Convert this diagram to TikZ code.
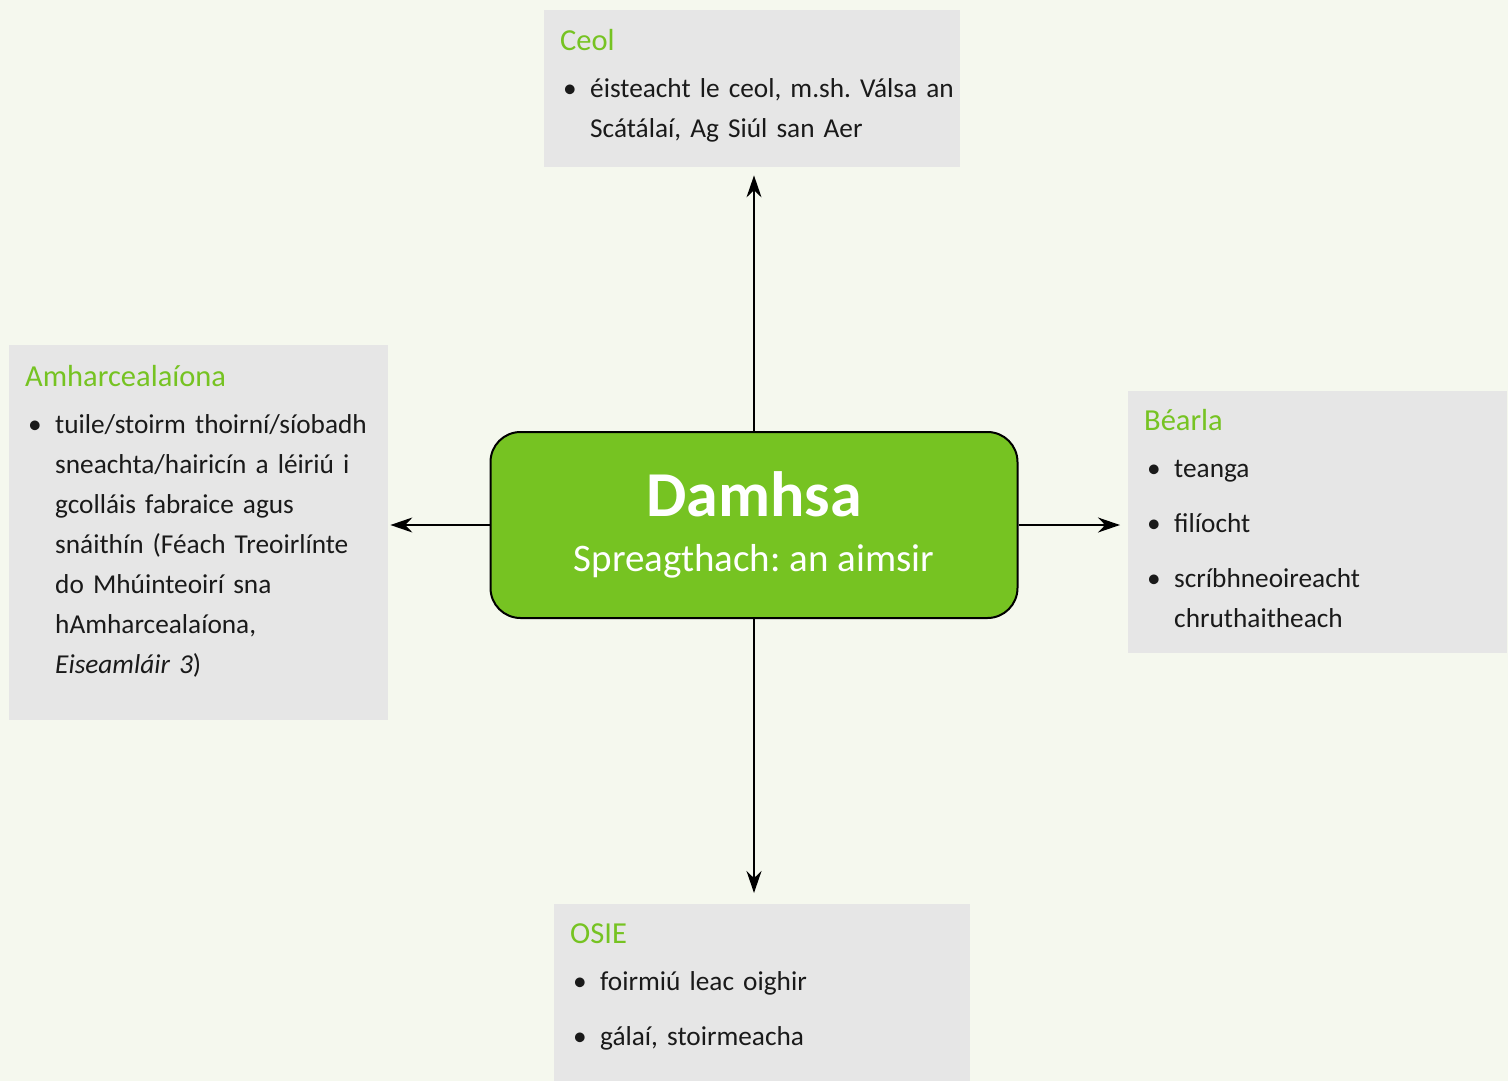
\documentclass[tikz,border=0pt]{standalone}
\usepackage{fontspec}
\setmainfont{Carlito}
\usetikzlibrary{arrows.meta}

\definecolor{bgcol}{HTML}{F5F8EE}
\definecolor{panelgray}{HTML}{E6E6E6}
\definecolor{leafgreen}{HTML}{76C322}
\definecolor{inkcol}{HTML}{1A1A1A}

% title line of a panel, then one bullet item
\newcommand{\head}[1]{\noindent\rule{0pt}{40pt}{\color{leafgreen}\fontsize{30.5}{40}\selectfont #1}\par\vspace{7pt}}
\newcommand{\itm}[1]{\hangindent=30pt\hangafter=1\noindent\makebox[30pt][l]{\hspace{3pt}\textbullet}#1\par}

\begin{document}
\frenchspacing
\begin{tikzpicture}[x=1pt,y=-1pt,
  panel/.style={fill=panelgray, inner sep=0pt, anchor=north west},
  listtext/.style={anchor=north west, inner sep=0pt, text width=420pt, align=left,
    text=inkcol, font=\fontsize{27.3}{40}\selectfont},
  hub/.style={fill=leafgreen, draw=black, line width=2pt, rounded corners=30pt,
    minimum width=527pt, minimum height=186pt, text=white, align=center,
    font=\fontsize{39}{55}\selectfont},
  conn/.style={-{Stealth[length=22pt,width=15pt]}, line width=1.4pt}]

\fill[bgcol] (0,0) rectangle (1508,1081);
\useasboundingbox (0,0) rectangle (1508,1081);

\node[hub] (hub) at (754,525) {{\bfseries\fontsize{64}{64}\selectfont Damhsa}\\Spreagthach: an aimsir};

\node[panel, minimum width=416pt, minimum height=157pt] (ceol) at (544,10) {};
\node[listtext] (ceoltext) at ([shift={(16,0)}]ceol.north west) {%
  \head{Ceol}
  \itm{éisteacht le ceol, m.sh. Válsa an\newline Scátálaí, Ag Siúl san Aer}};

\node[panel, minimum width=379pt, minimum height=375pt] (amh) at (9,345) {};
\node[listtext] (amhtext) at ([shift={(16,1)}]amh.north west) {%
  \head{Amharcealaíona}
  \itm{tuile/stoirm thoirní/síobadh\newline sneachta/hairicín a léiriú i\newline gcolláis fabraice agus\newline snáithín (Féach Treoirlínte\newline do Mhúinteoirí sna\newline hAmharcealaíona,\newline \textit{Eiseamláir 3})}};

\node[panel, minimum width=379pt, minimum height=262pt] (bearla) at (1128,391) {};
\node[listtext] (bearlatext) at ([shift={(16,-1)}]bearla.north west) {%
  \head{Béarla}
  \itm{teanga}\vspace{15pt}
  \itm{filíocht}\vspace{15pt}
  \itm{scríbhneoireacht\newline chruthaitheach}};

\node[panel, minimum width=416pt, minimum height=177pt] (osie) at (554,904) {};
\node[listtext] (osietext) at ([shift={(16,-1)}]osie.north west) {%
  \head{OSIE}
  \itm{foirmiú leac oighir}\vspace{15pt}
  \itm{gálaí, stoirmeacha}};

\draw[conn, shorten >=8pt] (hub.north) -- (hub.north |- ceol.south);
\draw[conn, shorten >=11pt] (hub.south) -- (hub.south |- osie.north);
\draw[conn, shorten >=2pt] (hub.west) -- (hub.west -| amh.east);
\draw[conn, shorten >=8pt] (hub.east) -- (hub.east -| bearla.west);

\end{tikzpicture}
\end{document}
